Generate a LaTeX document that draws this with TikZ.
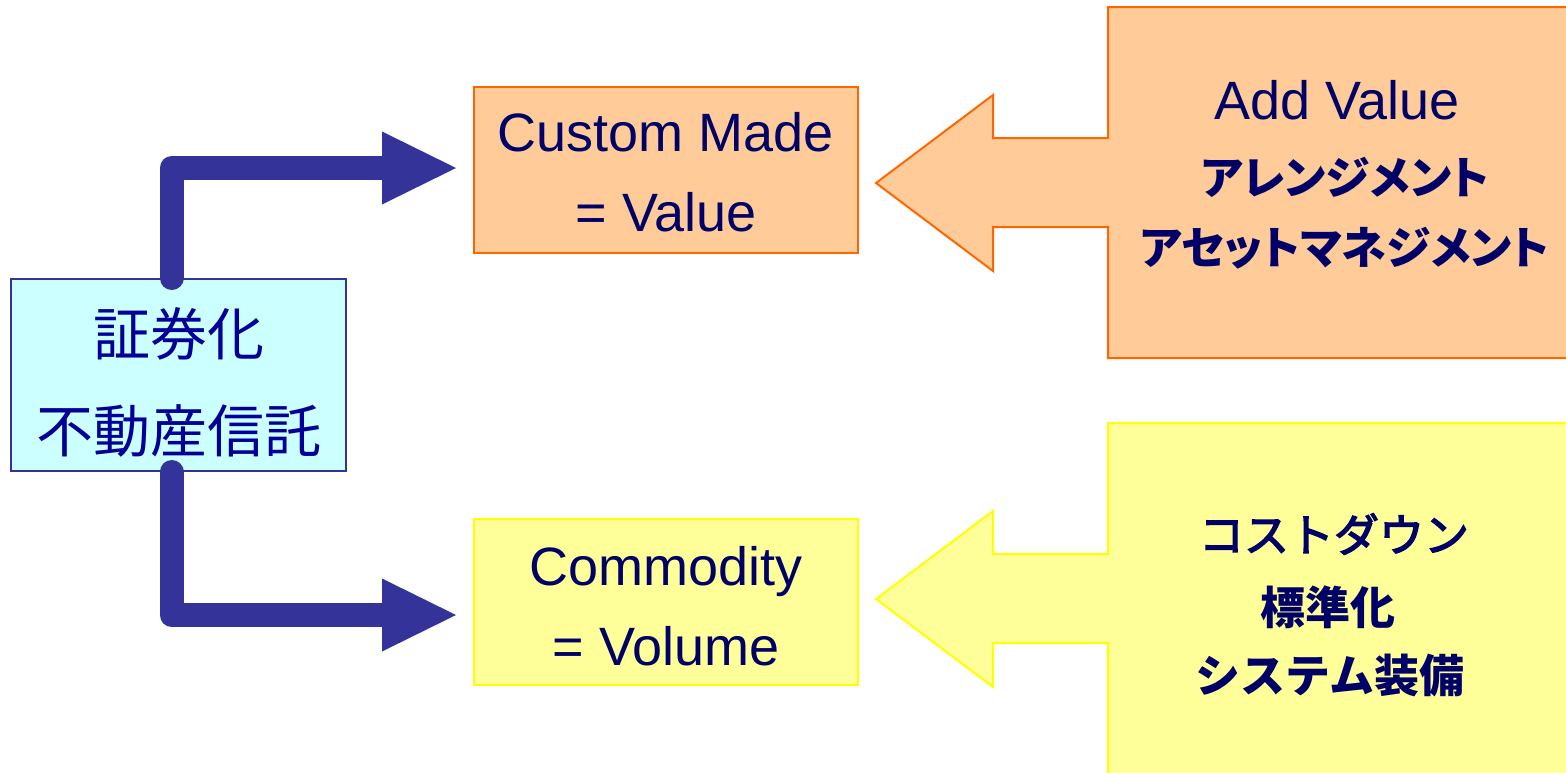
\documentclass[tikz,border=0pt]{standalone}
\usepackage{fontspec}
\setmainfont{Liberation Sans}
\newfontfamily\jp{Noto Sans CJK JP}
\newfontfamily\jpp{Noto Sans CJK JP}[RawFeature=+palt]
\newfontfamily\jpmed{Noto Sans CJK JP}[FakeBold=3]
\usetikzlibrary{arrows.meta,calc}
\definecolor{navy}{HTML}{000066}
\definecolor{deepblue}{HTML}{000099}
\definecolor{flowblue}{HTML}{333399}
\definecolor{peach}{HTML}{FFCC99}
\definecolor{orangeline}{HTML}{FF6600}
\definecolor{lightyellow}{HTML}{FFFF99}
\definecolor{yellowline}{HTML}{FFFF00}
\definecolor{palecyan}{HTML}{CCFFFF}
\begin{document}
\begin{tikzpicture}[x=1pt,y=-1pt,
  valbox/.style={draw, line width=2pt, minimum width=384pt, minimum height=166pt,
    inner sep=0pt, align=center, text=navy, font=\fontsize{54}{80}\selectfont},
  flow/.style={draw=flowblue, line width=24pt, line cap=round, line join=round,
    -{Triangle[length=74pt,width=73pt,line width=0pt]}, shorten >=17pt},
  block/.style={line width=2pt, line join=miter},
  latin/.style={text=navy, inner sep=0pt, font=\fontsize{54}{60}\selectfont},
  kanaprop/.style={text=navy, inner sep=0pt, font=\jpp\bfseries\fontsize{45}{50}\selectfont},
  kana/.style={text=navy, inner sep=0pt, font=\jp\bfseries\fontsize{45}{50}\selectfont},
  kanamed/.style={text=navy, inner sep=0pt, font=\jpmed\fontsize{45}{50}\selectfont}]
\useasboundingbox (0,0) rectangle (1566,772);
\clip (0,0) rectangle (1566,772);

% block arrows pointing back to the value boxes
\filldraw[block, fill=peach, draw=orangeline]
  (1590,7) -- (1108,7) -- (1108,138) -- (993,138) -- (993,95) -- (876,183)
  -- (993,271) -- (993,227) -- (1108,227) -- (1108,358) -- (1590,358) -- cycle;
\filldraw[block, fill=lightyellow, draw=yellowline]
  (1590,423) -- (1108,423) -- (1108,554) -- (993,554) -- (993,511) -- (876,599)
  -- (993,687) -- (993,643) -- (1108,643) -- (1108,800) -- (1590,800) -- cycle;

% captions inside the block arrows
\node[latin] (addval) at (1337,100) {Add Value};
\node[kanaprop] (arrange) at (1345,177) {アレンジメント};
\node[kanaprop] (assetm) at (1345,248) {アセットマネジメント};
\node[kanamed] (cost) at (1334,534) {コストダウン};
\node[kana] (std) at (1328,607) {標準化};
\node[kana] (sys) at (1330,675) {システム装備};

% source and target boxes
\node[draw=flowblue, line width=2pt, fill=palecyan, minimum width=335pt, minimum height=192pt,
  inner sep=0pt, align=center, text=deepblue, font=\jp\fontsize{57}{97}\selectfont]
  (src) at (178.5,375) {\rule{0pt}{62pt}証券化\\不動産信託};
\node[valbox, fill=peach, draw=orangeline] (cm) at (666,170)
  {\rule{0pt}{43pt}Custom Made\\= Value};
\node[valbox, fill=lightyellow, draw=yellowline] (co) at (666,602)
  {\rule{0pt}{48pt}Commodity\\= Volume};

% thick flow connectors
\draw[flow] ($(src.north)+(-7,0)$) |- ($(cm.west)+(0,-2)$);
\draw[flow] ($(src.south)+(-7,0)$) |- ($(co.west)+(0,13)$);
\end{tikzpicture}
\end{document}
